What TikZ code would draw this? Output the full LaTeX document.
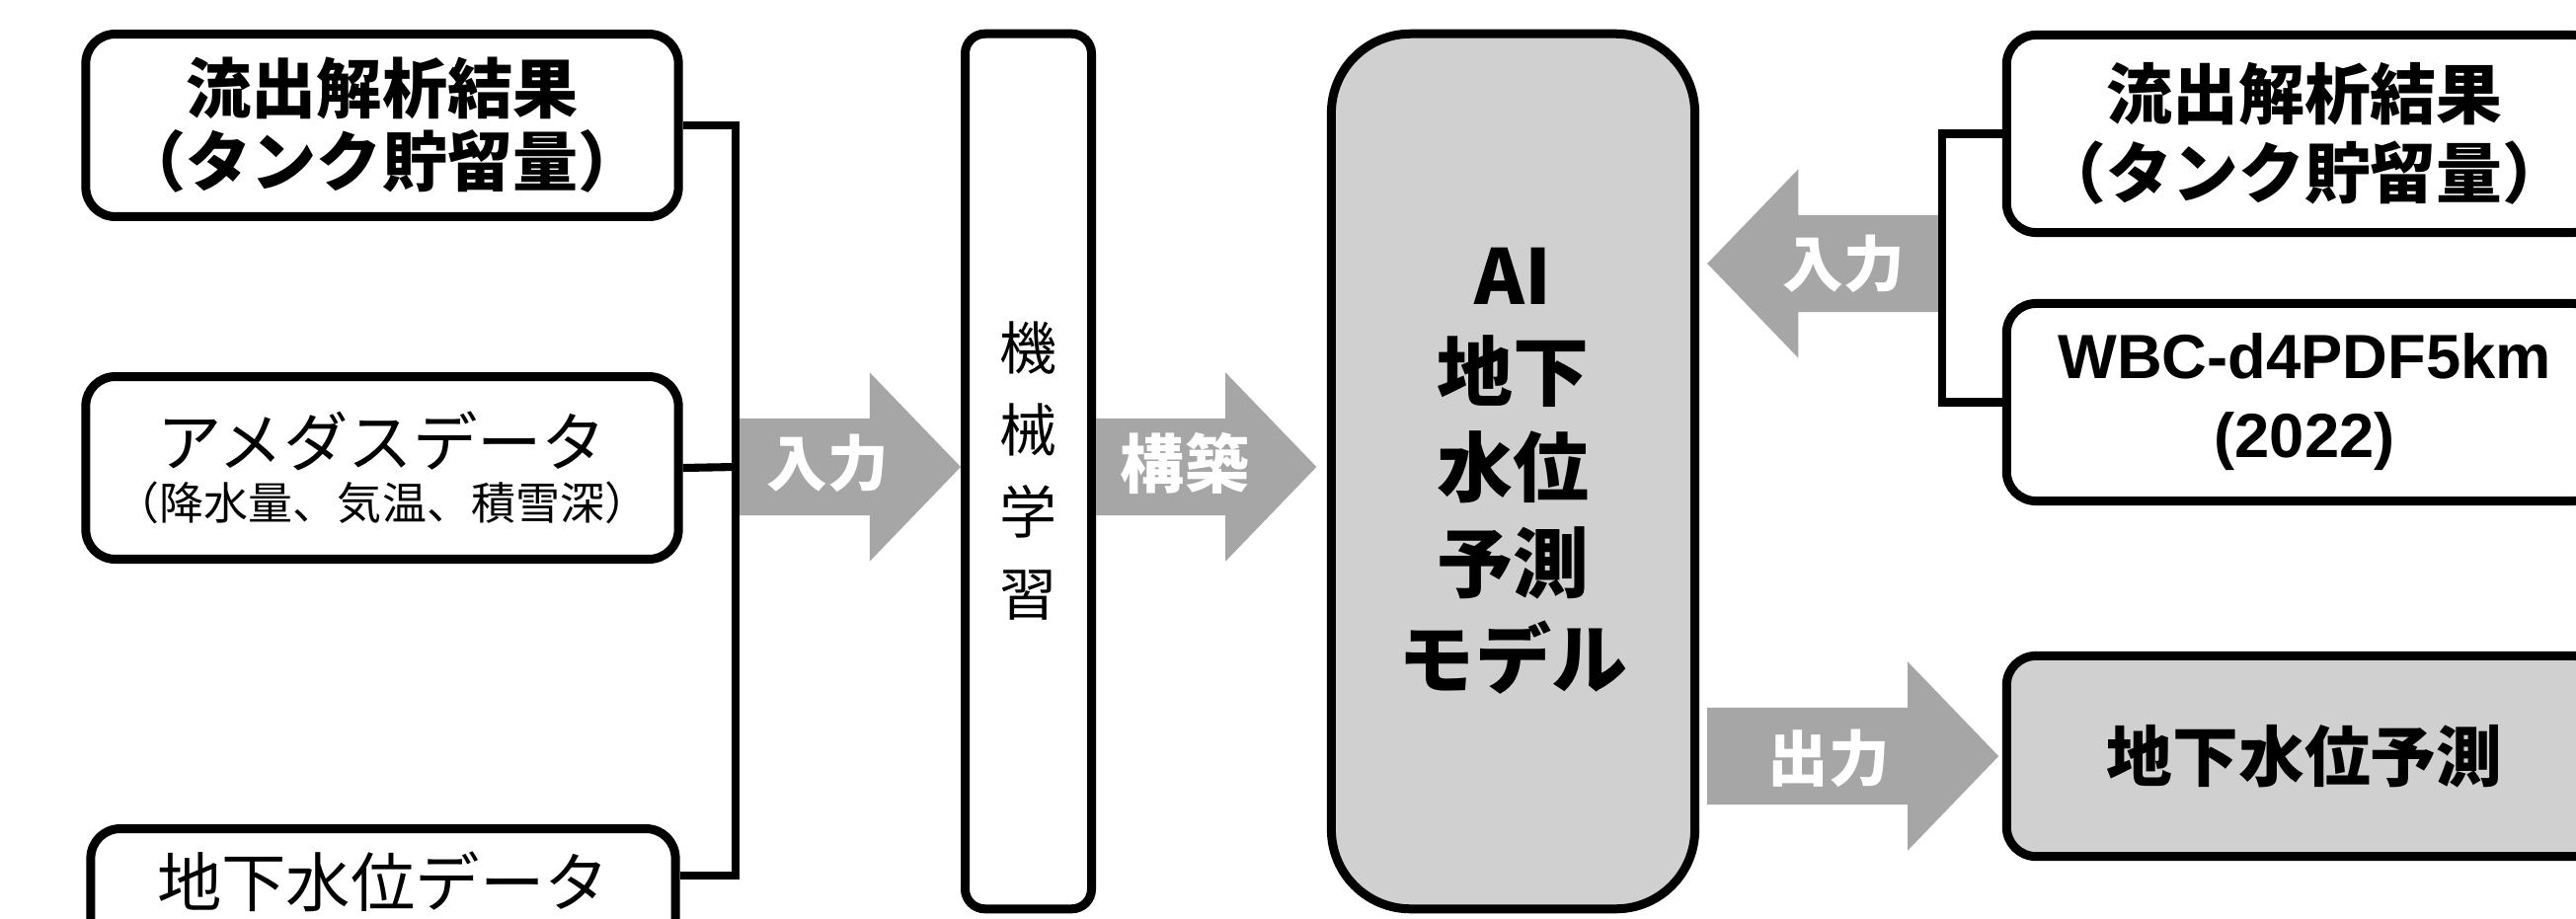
\documentclass[tikz,border=0pt]{standalone}
\usepackage{fontspec}
\setmainfont{Noto Sans CJK JP}
\newfontfamily\latinb{Liberation Sans}
\usetikzlibrary{calc}
\definecolor{boxgray}{HTML}{D0D0D0}
\definecolor{arrgray}{HTML}{A6A6A6}
\tikzset{
  box/.style={draw=black, line width=2.56pt, rounded corners=8.5pt, inner sep=0pt, align=center},
  lbox/.style={box, minimum width=170.7pt, minimum height=52.6pt},
  rbox/.style={box, minimum width=171.6pt, minimum height=56.9pt},
  bracket/.style={draw=black, line width=2.3pt},
  blockarrow/.style={to path={let \p1=(\tikztostart), \p2=(\tikztotarget), \n1={sign(\x2-\x1)} in
     (\x1,\y1+13.95pt) -- (\x2-\n1*26.2pt,\y1+13.95pt) -- (\x2-\n1*26.2pt,\y1+27.2pt) -- (\x2,\y1)
     -- (\x2-\n1*26.2pt,\y1-27.2pt) -- (\x2-\n1*26.2pt,\y1-13.95pt) -- (\x1,\y1-13.95pt) -- cycle}},
  arrlabel/.style={text=white, inner sep=0pt, font=\bfseries\fontsize{17.5pt}{20pt}\selectfont},
  boldtxt/.style={font=\bfseries\fontsize{18.8pt}{21pt}\selectfont},
}
\begin{document}
\begin{tikzpicture}[x=0.01cm, y=-0.01cm]
\clip (0,0) rectangle (2609,930);
\fill[white] (0,0) rectangle (2609,930);

% left boxes
\node[lbox, boldtxt] (L1) at (387,127) {流出解析結果\\（タンク貯留量）};
\node[lbox] (L2) at (387,474) {{\fontsize{18.6pt}{25pt}\selectfont アメダスデータ}\\[2pt]{\fontsize{12.8pt}{15pt}\selectfont （降水量、気温、積雪深）}};
\node[box, minimum width=168.4pt, minimum height=52.6pt] (L3) at (388,932) {};
\node[inner sep=0pt, font=\fontsize{18.6pt}{22pt}\selectfont] (L3t) at (388,893) {地下水位データ};

% machine learning column
\node[box, rounded corners=5.7pt, minimum width=36.4pt, minimum height=252.1pt,
      font=\fontsize{16.5pt}{23.6pt}\selectfont] (ML) at (1041.5,477.5) {機\\械\\学\\習};

% AI model
\node[box, fill=boxgray, rounded corners=22.8pt, minimum width=104.7pt, minimum height=252.1pt,
      font=\bfseries\fontsize{21.9pt}{27.6pt}\selectfont] (AI) at (1532.5,477.5) {AI\\地下\\水位\\予測\\モデル};

% right boxes
\node[rbox, font=\bfseries\fontsize{19pt}{22.8pt}\selectfont] (R1) at (2334,135.5) {流出解析結果\\（タンク貯留量）};
\node[rbox, font=\latinb\bfseries\fontsize{18pt}{22.8pt}\selectfont] (R2) at (2334,407.5) {WBC-d4PDF5km\\(2022)};
\node[rbox, fill=boxgray, minimum height=57.8pt, font=\bfseries\fontsize{19pt}{22.8pt}\selectfont] (R3) at (2334,766) {地下水位予測};

% junctions
\coordinate (lj) at (745,473);
\coordinate (rj) at (1967,267);
\path (L3.north east) ++(0,52) coordinate (l3s);
\coordinate (bt) at ([xshift=-3pt]AI.west);
\coordinate (it) at ([xshift=2.3pt]AI.east);
\coordinate (ot) at ([xshift=-1pt]R3.west);

% block arrows
\fill[arrgray] (lj) to[blockarrow] (lj -| ML.west);
\fill[arrgray] (ML.east |- lj) to[blockarrow] (bt |- lj);
\fill[arrgray] (rj) to[blockarrow] (it |- rj);
\fill[arrgray] (it |- ot) to[blockarrow] (ot);

\node[arrlabel] (a1) at (838,469) {入力};
\node[arrlabel, font=\bfseries\fontsize{18.5pt}{20pt}\selectfont] (a2) at (1200,469) {構築};
\node[arrlabel] (a3) at (1867,267) {入力};
\node[arrlabel] (a4) at (1852,768) {出力};

% brackets
\draw[bracket] (L1.east) -- (L1.east -| lj) -- (l3s -| lj) -- (l3s);
\draw[bracket] (L2.east) -- (lj);
\draw[bracket] (R1.west) -- (R1.west -| rj) -- (R2.west -| rj) -- (R2.west);
\end{tikzpicture}
\end{document}
